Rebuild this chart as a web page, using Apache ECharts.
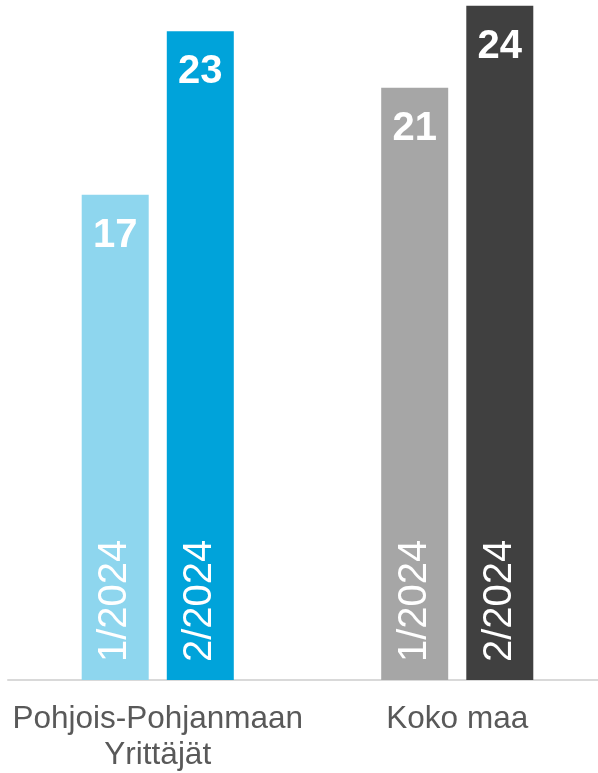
<!DOCTYPE html>
<html>
<head>
<meta charset="utf-8">
<script src="https://cdn.jsdelivr.net/npm/echarts@6/dist/echarts.min.js"></script>
<style>
  html, body { margin: 0; padding: 0; background: #fff; }
  #main { width: 598px; height: 773px; }
</style>
</head>
<body>
<div id="main"></div>
<script>
// data
var categories = ['Pohjois-Pohjanmaan\nYrittäjät', 'Koko maa'];
var periods = ['1/2024', '2/2024'];
var values1 = [17.2, 21.0];   // 1/2024
var values2 = [23.0, 23.9];   // 2/2024
var colors1 = ['#8ED6EE', '#A6A6A6'];
var colors2 = ['#00A3DA', '#404040'];

var font = 'Liberation Sans, Arial, sans-serif';

function coloured(vals, cols) {
  return vals.map(function (v, i) {
    return { value: v, itemStyle: { color: cols[i] } };
  });
}

// bars with the rotated period label at the bottom
function mainSeries(name, vals, cols) {
  return {
    name: name,
    type: 'bar',
    xAxisIndex: 0,
    barWidth: 67,
    barGap: '27%',
    data: coloured(vals, cols),
    label: {
      show: true,
      position: 'insideBottom',
      distance: 18,
      rotate: 90,
      align: 'left',
      verticalAlign: 'middle',
      formatter: name,
      color: '#fff',
      fontFamily: font,
      fontSize: 40
    }
  };
}

// invisible copies on a second axis, only for the value label on top
function valueSeries(name, vals) {
  return {
    name: name + ' value',
    type: 'bar',
    xAxisIndex: 1,
    barWidth: 67,
    barGap: '27%',
    silent: true,
    data: vals,
    itemStyle: { color: 'transparent' },
    label: {
      show: true,
      position: 'insideTop',
      distance: 21,
      formatter: function (p) { return Math.round(p.value); },
      color: '#fff',
      fontFamily: font,
      fontWeight: 'bold',
      fontSize: 40
    }
  };
}

var chart = echarts.init(document.getElementById('main'));
chart.setOption({
  animation: false,
  grid: { left: 8, width: 599, top: 3, bottom: 93, outerBoundsMode: 'none' },
  xAxis: [
    {
      type: 'category',
      data: categories,
      axisTick: { show: false },
      axisLine: { lineStyle: { color: '#D9D9D9', width: 2 } },
      axisLabel: {
        color: '#595959',
        fontFamily: font,
        fontSize: 31.5,
        lineHeight: 36,
        margin: 21,
        interval: 0
      }
    },
    {
      type: 'category',
      data: categories,
      position: 'bottom',
      show: false
    }
  ],
  yAxis: {
    type: 'value',
    min: 0,
    max: 24,
    show: false,
    splitLine: { show: false }
  },
  series: [
    mainSeries(periods[0], values1, colors1),
    mainSeries(periods[1], values2, colors2),
    valueSeries(periods[0], values1),
    valueSeries(periods[1], values2)
  ]
});
</script>
</body>
</html>
